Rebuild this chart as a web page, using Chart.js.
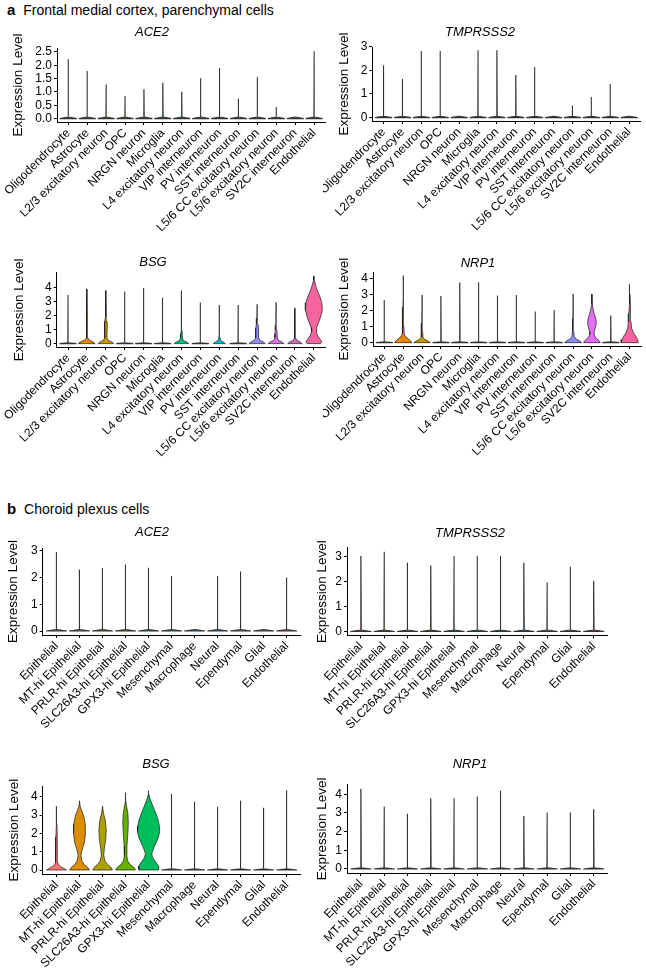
<!DOCTYPE html>
<html>
<head>
<meta charset="utf-8">
<script src="https://cdn.jsdelivr.net/npm/chart.js@4.4.1/dist/chart.umd.min.js"></script>
<style>
  body { margin: 0; background: #fff; }
  #page { position: relative; width: 646px; height: 975px; overflow: hidden;
          font-family: "Liberation Sans", Arial, sans-serif; color: #000; }
  #page canvas { position: absolute; }
  .section { position: absolute; left: 7px; font-size: 14px; line-height: 14px; white-space: nowrap; }
  .section b { font-size: 15px; margin-right: 4px; }
  .gene { position: absolute; font-size: 13px; font-style: italic; line-height: 13px;
          transform: translate(-50%, -50%); white-space: nowrap; }
</style>
</head>
<body>
<div id="page">
  <div class="section" style="top:3px"><b>a</b> Frontal medial cortex, parenchymal cells</div>
  <div class="section" style="top:502px"><b>b</b> Choroid plexus cells</div>
</div>
<script>
// cell types on the x axis
const cortexCells = ['Oligodendrocyte', 'Astrocyte', 'L2/3 excitatory neuron', 'OPC', 'NRGN neuron',
  'Microglia', 'L4 excitatory neuron', 'VIP interneuron', 'PV interneuron', 'SST interneuron',
  'L5/6 CC excitatory neuron', 'L5/6 excitatory neuron', 'SV2C interneuron', 'Endothelial'];
const plexusCells = ['Epithelial', 'MT-hi Epithelial', 'PRLR-hi Epithelial', 'SLC26A3-hi Epithelial',
  'GPX3-hi Epithelial', 'Mesenchymal', 'Macrophage', 'Neural', 'Ependymal', 'Glial', 'Endothelial'];

// highest expression level reached in each cell type (top of each violin)
const cortexACE2    = [2.22, 1.78, 1.28, 0.85, 1.10, 1.34, 1.01, 1.51, 1.90, 0.75, 1.56, 0.44, 0, 2.52];
const cortexTMPRSS2 = [2.21, 1.63, 2.81, 2.81, 0, 2.84, 2.84, 1.80, 2.14, 0, 0.51, 0.87, 1.42, 0];
const cortexBSG     = [3.45, 3.88, 3.76, 3.69, 3.95, 3.26, 3.76, 2.91, 2.74, 2.74, 2.79, 2.93, 2.51, 4.80];
const cortexNRP1    = [2.65, 4.16, 2.96, 2.90, 3.73, 3.75, 2.92, 2.96, 1.93, 2.03, 3.02, 3.02, 1.68, 3.62];
const plexusACE2    = [2.95, 2.30, 2.35, 2.48, 2.36, 2.05, 0, 2.05, 2.22, 0, 2.00];
const plexusTMPRSS2 = [3.03, 3.20, 2.76, 2.65, 3.03, 3.03, 3.03, 2.76, 1.96, 2.60, 2.03];
const plexusBSG     = [3.49, 3.78, 3.49, 4.22, 4.33, 4.15, 3.73, 3.45, 3.78, 3.40, 4.36];
const plexusNRP1    = [4.29, 3.34, 2.95, 3.79, 3.79, 3.88, 4.18, 2.84, 3.02, 3.02, 3.20];

// y tick labels
const cortexACE2Ticks    = [0, 0.5, 1, 1.5, 2, 2.5];
const cortexTMPRSS2Ticks = [0, 1, 2, 3];
const cortexBSGTicks     = [0, 1, 2, 3, 4];
const cortexNRP1Ticks    = [0, 1, 2, 3, 4];
const plexusACE2Ticks    = [0, 1, 2, 3];
const plexusTMPRSS2Ticks = [0, 1, 2, 3];
const plexusBSGTicks     = [0, 1, 2, 3, 4];
const plexusNRP1Ticks    = [0, 1, 2, 3, 4];

// violin bodies: [expression level, half width as share of a slot]
// null = almost all cells at zero, only the flat base and a thin line show
const thinBody = [[0, 0.45], [0.06, 0.012]];
const cortexBSGBody = [
  null,
  [[0, 0.42], [0.08, 0.38], [0.16, 0.26], [0.26, 0.12], [0.4, 0.05], [0.8, 0.03], [1.5, 0.02], [2.1, 0.008]],
  [[0, 0.42], [0.1, 0.34], [0.22, 0.14], [0.4, 0.05], [0.7, 0.06], [1.2, 0.08], [1.6, 0.06], [1.9, 0.03], [2.2, 0.01]],
  null, null, null,
  [[0, 0.38], [0.1, 0.3], [0.22, 0.1], [0.4, 0.05], [0.7, 0.04], [1.0, 0.02], [1.2, 0.008]],
  null,
  [[0, 0.32], [0.1, 0.22], [0.22, 0.07], [0.4, 0.03], [0.6, 0.01]],
  null,
  [[0, 0.42], [0.1, 0.36], [0.22, 0.16], [0.4, 0.08], [0.7, 0.08], [1.1, 0.07], [1.4, 0.04], [1.8, 0.01]],
  [[0, 0.42], [0.1, 0.34], [0.22, 0.13], [0.4, 0.06], [0.7, 0.06], [1.0, 0.04], [1.3, 0.01]],
  [[0, 0.38], [0.1, 0.3], [0.22, 0.1], [0.4, 0.04], [0.7, 0.015]],
  [[0, 0.36], [0.1, 0.42], [0.3, 0.34], [0.55, 0.2], [0.85, 0.12], [1.15, 0.15], [1.5, 0.25], [1.9, 0.36],
   [2.4, 0.45], [2.9, 0.42], [3.3, 0.33], [3.7, 0.2], [4.1, 0.1], [4.5, 0.03]]
];
const cortexNRP1Body = [
  null,
  [[0, 0.45], [0.1, 0.4], [0.22, 0.28], [0.36, 0.13], [0.55, 0.05], [1.0, 0.04], [1.6, 0.03], [2.2, 0.015], [2.7, 0.005]],
  [[0, 0.44], [0.1, 0.32], [0.2, 0.14], [0.35, 0.05], [0.7, 0.03], [1.2, 0.01]],
  null, null, null, null, null, null, null,
  [[0, 0.45], [0.1, 0.36], [0.22, 0.16], [0.38, 0.06], [0.7, 0.04], [1.1, 0.02], [1.5, 0.005]],
  [[0, 0.44], [0.12, 0.38], [0.3, 0.2], [0.5, 0.12], [0.7, 0.12], [1.0, 0.2], [1.25, 0.23], [1.5, 0.2],
   [1.8, 0.12], [2.1, 0.06], [2.4, 0.02]],
  null,
  [[0, 0.45], [0.2, 0.42], [0.4, 0.32], [0.6, 0.2], [0.9, 0.1], [1.3, 0.07], [1.8, 0.05], [2.4, 0.03], [3.0, 0.012]]
];
const plexusBSGBody = [
  [[0, 0.43], [0.1, 0.3], [0.22, 0.13], [0.4, 0.05], [1.0, 0.035], [1.8, 0.03], [2.5, 0.02], [3.0, 0.008]],
  [[0, 0.43], [0.15, 0.35], [0.3, 0.2], [0.5, 0.1], [0.8, 0.06], [1.1, 0.11], [1.5, 0.21], [2.0, 0.26],
   [2.5, 0.25], [2.9, 0.19], [3.2, 0.11], [3.45, 0.03]],
  [[0, 0.43], [0.15, 0.36], [0.3, 0.22], [0.5, 0.1], [0.8, 0.05], [1.2, 0.08], [1.7, 0.14], [2.2, 0.16],
   [2.7, 0.12], [3.1, 0.04]],
  [[0, 0.43], [0.15, 0.36], [0.3, 0.2], [0.5, 0.09], [0.8, 0.05], [1.3, 0.06], [2.0, 0.1], [2.6, 0.12],
   [3.1, 0.1], [3.5, 0.04], [3.8, 0.01]],
  [[0, 0.42], [0.2, 0.44], [0.45, 0.3], [0.7, 0.17], [0.9, 0.14], [1.2, 0.22], [1.5, 0.33], [1.8, 0.43],
   [2.1, 0.48], [2.4, 0.47], [2.8, 0.4], [3.2, 0.28], [3.6, 0.15], [3.9, 0.06], [4.15, 0.01]],
  null, null, null, null, null, null
];

const cortexColors = ['#F8766D', '#E58700', '#C99800', '#A3A500', '#6BB100', '#00BA38', '#00BF7D',
  '#00C0AF', '#00BCD8', '#00B0F6', '#8F8CF5', '#E36EF4', '#D865C8', '#F5649F'];
const plexusColors = ['#F8766D', '#DB8E00', '#AEA200', '#64B200', '#00BD5C', '#00C1A7', '#00BADE',
  '#00A6FF', '#B385FF', '#EF67EB', '#FF63B6'];

const FONT = '"Liberation Sans", Arial, sans-serif';
Chart.defaults.font.family = FONT;
Chart.defaults.color = '#000';

// where each panel sits on the page: canvas box and the plot box inside it (page pixels)
const panels = [
  { gene: 'ACE2', cells: cortexCells, top: cortexACE2, ticks: cortexACE2Ticks, body: [], colors: cortexColors, digits: 1,
    canvas: [0, 22, 330, 223], plot: [57, 48, 325.5, 122], titleX: 18, geneAt: [152, 31] },
  { gene: 'TMPRSSS2', cells: cortexCells, top: cortexTMPRSS2, ticks: cortexTMPRSS2Ticks, body: [], colors: cortexColors, digits: 0,
    canvas: [323, 22, 323, 223], plot: [372.3, 47, 640.5, 121], titleX: 344, geneAt: [480, 31] },
  { gene: 'BSG', cells: cortexCells, top: cortexBSG, ticks: cortexBSGTicks, body: cortexBSGBody, colors: cortexColors, digits: 0,
    canvas: [0, 250, 330, 250], plot: [56.7, 272.6, 325.2, 347], titleX: 19, geneAt: [153, 261] },
  { gene: 'NRP1', cells: cortexCells, top: cortexNRP1, ticks: cortexNRP1Ticks, body: cortexNRP1Body, colors: cortexColors, digits: 0,
    canvas: [323, 250, 323, 250], plot: [373, 272.3, 641, 346], titleX: 344, geneAt: [478, 262] },
  { gene: 'ACE2', cells: plexusCells, top: plexusACE2, ticks: plexusACE2Ticks, body: [], colors: plexusColors, digits: 0,
    canvas: [0, 525, 323, 215], plot: [42.7, 548, 300.5, 635], titleX: 13.5, geneAt: [152, 531] },
  { gene: 'TMPRSSS2', cells: plexusCells, top: plexusTMPRSS2, ticks: plexusTMPRSS2Ticks, body: [], colors: plexusColors, digits: 0,
    canvas: [313, 525, 333, 215], plot: [347, 547.7, 607.7, 635.5], titleX: 322, geneAt: [470, 532] },
  { gene: 'BSG', cells: plexusCells, top: plexusBSG, ticks: plexusBSGTicks, body: plexusBSGBody, colors: plexusColors, digits: 0,
    canvas: [0, 760, 323, 215], plot: [42.7, 786.2, 300.5, 874], titleX: 14, geneAt: [156, 763] },
  { gene: 'NRP1', cells: plexusCells, top: plexusNRP1, ticks: plexusNRP1Ticks, body: [], colors: plexusColors, digits: 0,
    canvas: [313, 760, 333, 215], plot: [347, 784.8, 607.7, 873], titleX: 322, geneAt: [470, 763] }
];

// outline of one violin, going up the right side and back down the left side
function violinOutline(i, top, body) {
  const rim = (body || thinBody).concat([[Math.max(top, 0.06), 0]]);
  const right = rim.map(([y, w]) => ({ x: i + w, y: y }));
  const left = rim.slice().reverse().map(([y, w]) => ({ x: i - w, y: y }));
  return right.concat(left, [right[0]]);
}

const page = document.getElementById('page');

panels.forEach(p => {
  const [cx, cy, cw, ch] = p.canvas;
  const [pl, pt, pr, pb] = p.plot;

  const canvas = document.createElement('canvas');
  canvas.width = cw;
  canvas.height = ch;
  canvas.style.left = cx + 'px';
  canvas.style.top = cy + 'px';
  page.appendChild(canvas);

  const title = document.createElement('div');
  title.className = 'gene';
  title.textContent = p.gene;
  title.style.left = p.geneAt[0] + 'px';
  title.style.top = p.geneAt[1] + 'px';
  page.appendChild(title);

  const peak = Math.max(...p.top);
  const n = p.cells.length;

  const datasets = p.top.map((v, i) => {
    const fat = p.body[i];
    return {
      data: violinOutline(i, v, fat),
      showLine: true,
      fill: 'shape',
      backgroundColor: p.colors[i],
      borderColor: fat ? '#1a1a1a' : '#333',
      borderWidth: fat ? 0.7 : 1.1,
      pointRadius: 0,
      tension: 0
    };
  });

  new Chart(canvas, {
    type: 'scatter',
    data: { datasets: datasets },
    options: {
      responsive: false,
      animation: false,
      devicePixelRatio: 1,
      events: [],
      layout: { padding: { top: pt - cy, right: cx + cw - pr, left: 0, bottom: 0 } },
      plugins: { legend: { display: false }, tooltip: { enabled: false } },
      scales: {
        x: {
          type: 'linear',
          min: -0.6,
          max: n - 0.4,
          afterBuildTicks: ax => { ax.ticks = p.cells.map((c, i) => ({ value: i })); },
          afterFit: ax => { ax.height = cy + ch - pb; ax.paddingLeft = 0; ax.paddingRight = 0; },
          ticks: {
            autoSkip: false, minRotation: 45, maxRotation: 45, padding: 1,
            color: '#000', font: { size: 12 },
            callback: v => p.cells[v]
          },
          grid: { drawOnChartArea: false, tickLength: 3, color: '#000' },
          border: { color: '#000', width: 1 }
        },
        y: {
          min: -0.05 * peak,
          max: 1.05 * peak,
          afterBuildTicks: ax => { ax.ticks = p.ticks.map(v => ({ value: v })); },
          afterFit: ax => { ax.width = pl - cx; ax.paddingTop = 0; ax.paddingBottom = 0; },
          ticks: { autoSkip: false, padding: 2, color: '#000', font: { size: 12 }, callback: v => v.toFixed(p.digits) },
          grid: { drawOnChartArea: false, tickLength: 3, color: '#000' },
          border: { color: '#000', width: 1 },
          title: {
            display: true, text: 'Expression Level', color: '#000', font: { size: 13.5 },
            padding: { top: p.titleX - cx - 8.1, bottom: 0 }
          }
        }
      }
    }
  });
});
</script>
</body>
</html>
